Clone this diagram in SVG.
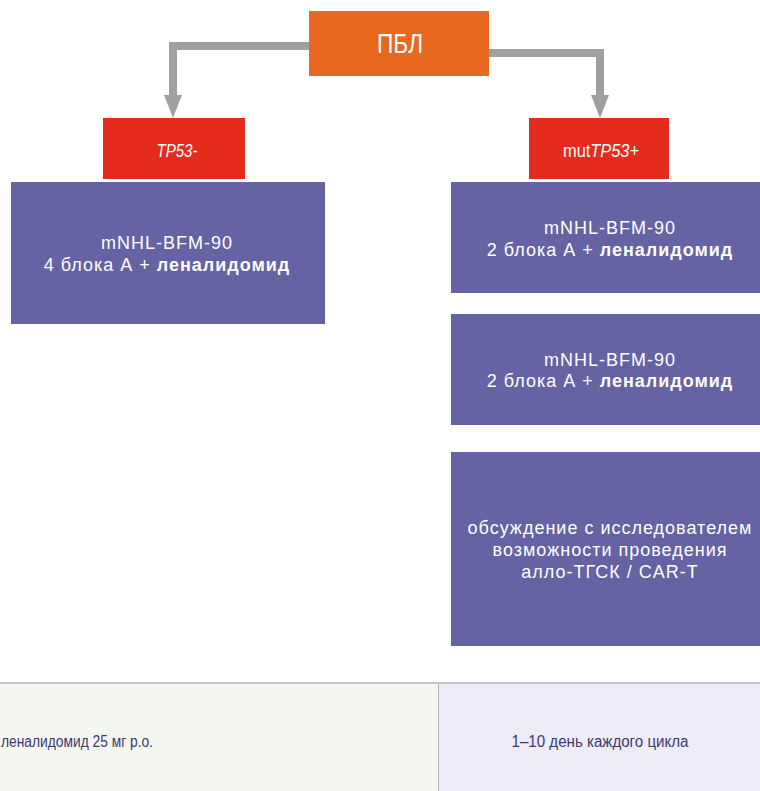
<svg xmlns="http://www.w3.org/2000/svg" width="760" height="791" viewBox="0 0 760 791">
<defs>
<style>
.box{fill:#6563a3}
.lbl{font-family:"Liberation Sans",Arial,sans-serif;font-size:18px;fill:#ffffff;text-anchor:middle;letter-spacing:1px}
.b{font-weight:bold}
.cond{font-family:"Liberation Sans",Arial,sans-serif;fill:#ffffff;text-anchor:middle}
.tbl{font-family:"Liberation Sans",Arial,sans-serif;font-size:16px;fill:#3b3a72}
.conn{fill:none;stroke:#a0a0a0;stroke-width:8}
.head{fill:#a0a0a0}
</style>
</defs>
<rect width="760" height="791" fill="#ffffff"/>
<g id="connectors">
<path class="conn" d="M309,46 H173 V96"/>
<polygon class="head" points="164,95 182,95 173,118"/>
<path class="conn" d="M489,53 H600 V96"/>
<polygon class="head" points="591,95 609,95 600,118"/>
</g>
<g id="pbl">
<rect x="309" y="11" width="180" height="65" fill="#e8681f"/>
<text class="cond" x="400" y="53" font-size="27" textLength="46" lengthAdjust="spacingAndGlyphs">ПБЛ</text>
</g>
<g id="tp53neg">
<rect x="103" y="118" width="142" height="61" fill="#e52a1e"/>
<text class="cond" x="177" y="157" font-size="18" font-style="italic" textLength="41" lengthAdjust="spacingAndGlyphs">TP53-</text>
</g>
<g id="tp53pos">
<rect x="529" y="118" width="140" height="61" fill="#e52a1e"/>
<text class="cond" x="601" y="157" font-size="18" textLength="76" lengthAdjust="spacingAndGlyphs">mut<tspan font-style="italic">TP53+</tspan></text>
</g>
<g id="left-regimen">
<rect class="box" x="11" y="182" width="314" height="142"/>
<text class="lbl" x="167" y="249">mNHL-BFM-90</text>
<text class="lbl" x="167" y="271">4 блока А + <tspan class="b">леналидомид</tspan></text>
</g>
<g id="right-regimen-1">
<rect class="box" x="451" y="182" width="318" height="111"/>
<text class="lbl" x="610" y="234">mNHL-BFM-90</text>
<text class="lbl" x="610" y="256">2 блока А + <tspan class="b">леналидомид</tspan></text>
</g>
<g id="right-regimen-2">
<rect class="box" x="451" y="314" width="318" height="111"/>
<text class="lbl" x="610" y="366">mNHL-BFM-90</text>
<text class="lbl" x="610" y="387">2 блока А + <tspan class="b">леналидомид</tspan></text>
</g>
<g id="right-discussion">
<rect class="box" x="451" y="452" width="318" height="194"/>
<text class="lbl" x="610" y="534">обсуждение с исследователем</text>
<text class="lbl" x="610" y="556">возможности проведения</text>
<text class="lbl" x="610" y="578">алло-ТГСК / CAR-T</text>
</g>
<g id="table">
<rect x="-1" y="683" width="440" height="110" fill="#f4f6f0"/>
<rect x="439" y="683" width="322" height="110" fill="#eeecf6"/>
<line x1="0" y1="683" x2="760" y2="683" stroke="#b4b4b4" stroke-width="1.5"/>
<line x1="438.5" y1="683" x2="438.5" y2="791" stroke="#b4b4b4" stroke-width="1"/>
<text class="tbl" x="1" y="747" textLength="152" lengthAdjust="spacingAndGlyphs">леналидомид 25 мг р.о.</text>
<text class="tbl" x="600" y="747" text-anchor="middle" textLength="177" lengthAdjust="spacingAndGlyphs">1–10 день каждого цикла</text>
</g>
</svg>
